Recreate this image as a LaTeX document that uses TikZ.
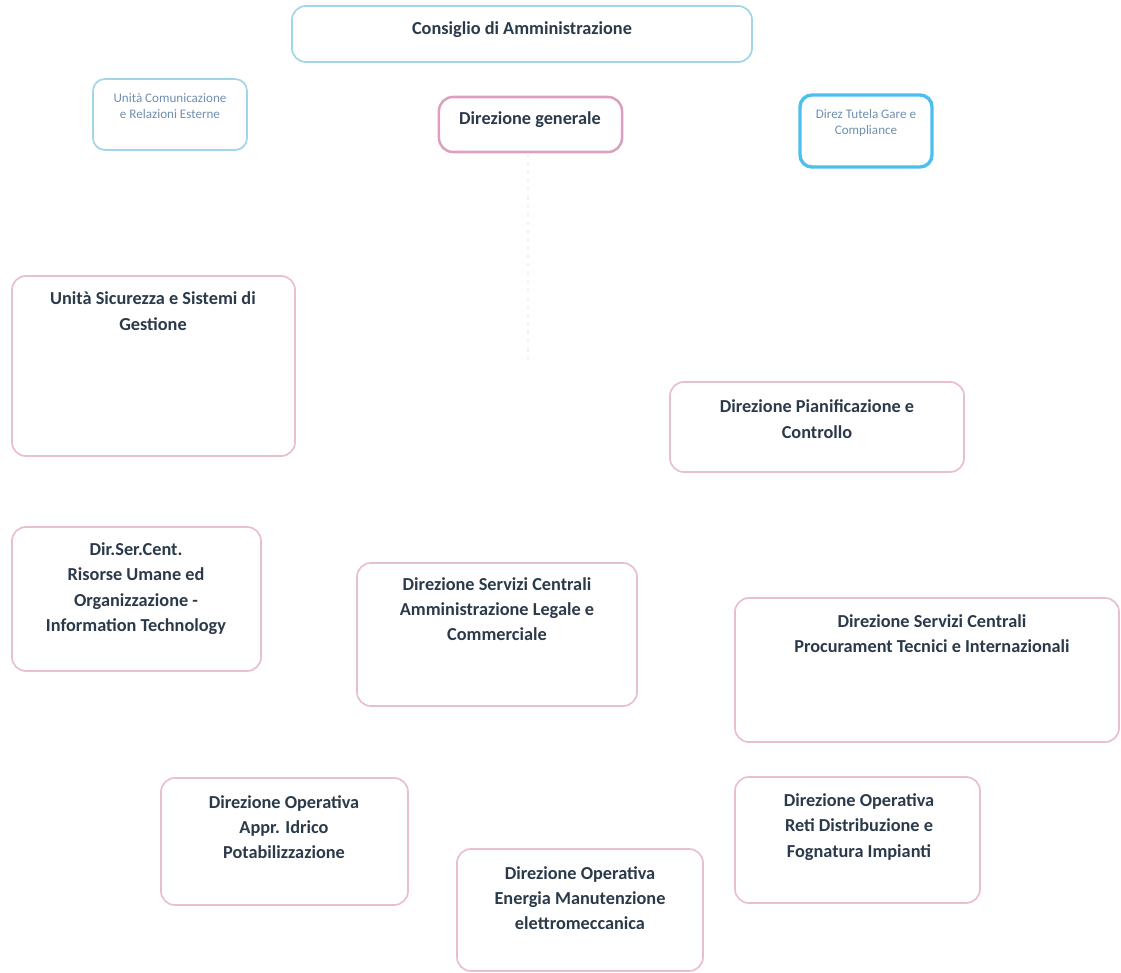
\documentclass[tikz,border=0pt]{standalone}
\usepackage{fontspec}
\setmainfont{Carlito}
\usepackage{xcolor}
\usetikzlibrary{positioning}
\definecolor{inkslate}{HTML}{2B3A4A}
\definecolor{inksoft}{HTML}{6F8FAF}
\definecolor{pinkpale}{HTML}{E8BFCC}
\definecolor{pinkdg}{HTML}{DE9FBF}
\definecolor{bluepale}{HTML}{A2D5E7}
\definecolor{bluetut}{HTML}{4DBFEF}

\begin{document}
\begin{tikzpicture}[
  x=0.025cm, y=-0.025cm,
  unit/.style={rectangle,rounded corners=3.5mm,draw=pinkpale,line width=1.2pt,inner sep=0pt},
  board/.style={unit,draw=bluepale},
  staff/.style={unit,draw=bluepale,rounded corners=3mm},
  general/.style={unit,draw=pinkdg,line width=1.8pt},
  audit/.style={unit,draw=bluetut,line width=2.4pt,rounded corners=3mm},
  lbl/.style={align=center,inner sep=0pt,font=\fontsize{13}{18}\selectfont\bfseries,text=inkslate},
  small/.style={align=center,inner sep=0pt,font=\fontsize{9.3}{11.5}\selectfont,text=inksoft},
  link/.style={gray!9,line width=1pt,dashed}
]
\useasboundingbox (0,0) rectangle (1121,973);

% Boxes
\node[board,minimum width=11.5cm,minimum height=1.4cm] (cda) at (522,34) {};
\node[staff,minimum width=3.85cm,minimum height=1.775cm] (com) at (170,114.5) {};
\node[general,minimum width=4.575cm,minimum height=1.375cm] (dg) at (530.5,124.5) {};
\node[audit,minimum width=3.3cm,minimum height=1.8cm] (tut) at (866,131) {};
\node[unit,minimum width=7.075cm,minimum height=4.5cm] (sic) at (153.5,366) {};
\node[unit,minimum width=7.35cm,minimum height=2.25cm] (pia) at (817,427) {};
\node[unit,minimum width=6.225cm,minimum height=3.6cm] (rum) at (136.5,599) {};
\node[unit,minimum width=7cm,minimum height=3.575cm] (amm) at (497,634.5) {};
\node[unit,minimum width=9.6cm,minimum height=3.6cm] (pro) at (927,670) {};
\node[unit,minimum width=6.175cm,minimum height=3.175cm] (idr) at (284.5,841.5) {};
\node[unit,minimum width=6.15cm,minimum height=3.05cm] (ene) at (580,910) {};
\node[unit,minimum width=6.125cm,minimum height=3.15cm] (ret) at (857.5,840) {};

% Labels
\node[lbl] (cda-t) at (522,30) {Consiglio di Amministrazione};
\node[small] (com-t) at (170,106) {Unità Comunicazione\\e Relazioni Esterne};
\node[lbl] (dg-t) at (530,120) {Direzione generale};
\node[small] (tut-t) at (866,123) {Direz Tutela Gare e\\Compliance};
\node[lbl] (sic-t) at (153,311) {Unità Sicurezza e Sistemi di\\Gestione};
\node[lbl] (pia-t) at (817,419) {Direzione Pianificazione e\\Controllo};
\node[lbl] (rum-t) at (136,588.5) {Dir.Ser.Cent.\\Risorse Umane ed\\Organizzazione -\\Information Technology};
\node[lbl] (amm-t) at (497,609) {Direzione Servizi Centrali\\Amministrazione Legale e\\Commerciale};
\node[lbl] (pro-t) at (932,633.5) {Direzione Servizi Centrali\\Procurament Tecnici e Internazionali};
\node[lbl] (idr-t) at (284,827) {Direzione Operativa\\Appr. Idrico\\Potabilizzazione};
\node[lbl] (ene-t) at (580,898) {Direzione Operativa\\Energia Manutenzione\\elettromeccanica};
\node[lbl] (ret-t) at (859,827) {Direzione Operativa\\Reti Distribuzione e\\Fognatura Impianti};

% Faint stem below DG
\coordinate (stem) at (528,362);
\draw[link] (dg.south -| stem) -- (stem);
\end{tikzpicture}
\end{document}
